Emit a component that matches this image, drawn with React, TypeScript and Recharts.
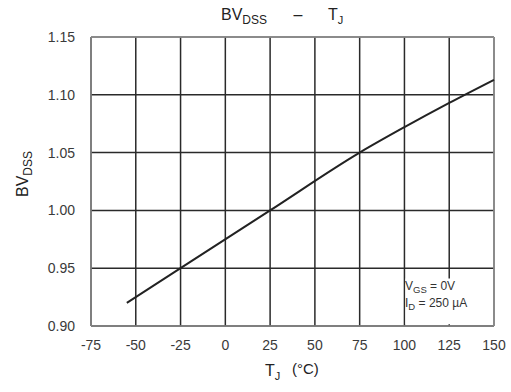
import { CartesianGrid, Line, LineChart, ReferenceArea, ReferenceLine, XAxis, YAxis } from "recharts";

const tempTicks = [-75, -50, -25, 0, 25, 50, 75, 100, 125, 150];
const bvTicks = [0.9, 0.95, 1.0, 1.05, 1.1, 1.15];

const tempC = [-55, -25, 25, 75, 100, 125, 150];
const bvNorm = [0.92, 0.95, 1.0, 1.05, 1.072, 1.093, 1.113];

const data = tempC.map((t, i) => ({ t, bv: bvNorm[i] }));

const tickStyle = { fill: "#3a3a3a", fontSize: 14, fontFamily: "Liberation Sans, Arial, sans-serif" };

export default function App() {
  return (
    <div style={{ position: "absolute", left: 0, top: 0, width: 511, height: 392, background: "#fff" }}>
      <LineChart width={511} height={392} data={data} margin={{ top: 37, right: 17, bottom: 36, left: 31 }}>
        <CartesianGrid stroke="#2a2a2a" strokeWidth={1.5} />
        <XAxis
          dataKey="t"
          type="number"
          domain={[-75, 150]}
          ticks={tempTicks}
          interval={0}
          height={30}
          tickLine={false}
          tickMargin={8}
          axisLine={{ stroke: "#8a8a8a", strokeWidth: 1.5 }}
          tick={tickStyle}
        />
        <YAxis
          type="number"
          domain={[0.9, 1.15]}
          ticks={bvTicks}
          interval={0}
          width={60}
          tickLine={false}
          tickMargin={10}
          axisLine={{ stroke: "#8a8a8a", strokeWidth: 1.5 }}
          tick={tickStyle}
          tickFormatter={(v: number) => v.toFixed(2)}
        />
        <ReferenceLine y={1.15} stroke="#9a9a9a" strokeWidth={1.5} />
        <ReferenceLine x={150} stroke="#9a9a9a" strokeWidth={1.5} />
        <ReferenceArea x1={100.6} x2={149.3} y1={0.9015} y2={0.941} fill="#ffffff" fillOpacity={1} stroke="none" />
        <Line
          type="monotone"
          dataKey="bv"
          stroke="#222"
          strokeWidth={2}
          dot={false}
          isAnimationActive={false}
        />
      </LineChart>
      <svg
        width={511}
        height={392}
        style={{ position: "absolute", left: 0, top: 0, pointerEvents: "none" }}
        fontFamily="Liberation Sans, Arial, sans-serif"
        fill="#222"
      >
        {/* title */}
        <text x={221} y={20} fontSize={16}>
          BV<tspan fontSize={12} dy={4}>DSS</tspan>
        </text>
        <text x={298} y={20} fontSize={16} textAnchor="middle">–</text>
        <text x={328} y={20} fontSize={16}>
          T<tspan fontSize={11} dy={4}>J</tspan>
        </text>
        {/* y label */}
        <text x={0} y={0} fontSize={16} textAnchor="middle" transform="translate(28,174) rotate(-90)">
          BV<tspan fontSize={12} dy={4}>DSS</tspan>
        </text>
        {/* x label */}
        <text x={265} y={376} fontSize={16}>
          T<tspan fontSize={11} dy={4}>J</tspan>
        </text>
        <text x={292} y={374} fontSize={15}>(°C)</text>
        {/* conditions */}
        <text x={405} y={290} fontSize={12} fill="#333">
          V<tspan fontSize={9.5} dy={3}>GS</tspan>
          <tspan dy={-3}>{" = 0V"}</tspan>
        </text>
        <text x={405} y={307} fontSize={12} fill="#333">
          I<tspan fontSize={9.5} dy={3}>D</tspan>
          <tspan dy={-3}>{" = 250 µA"}</tspan>
        </text>
      </svg>
    </div>
  );
}
